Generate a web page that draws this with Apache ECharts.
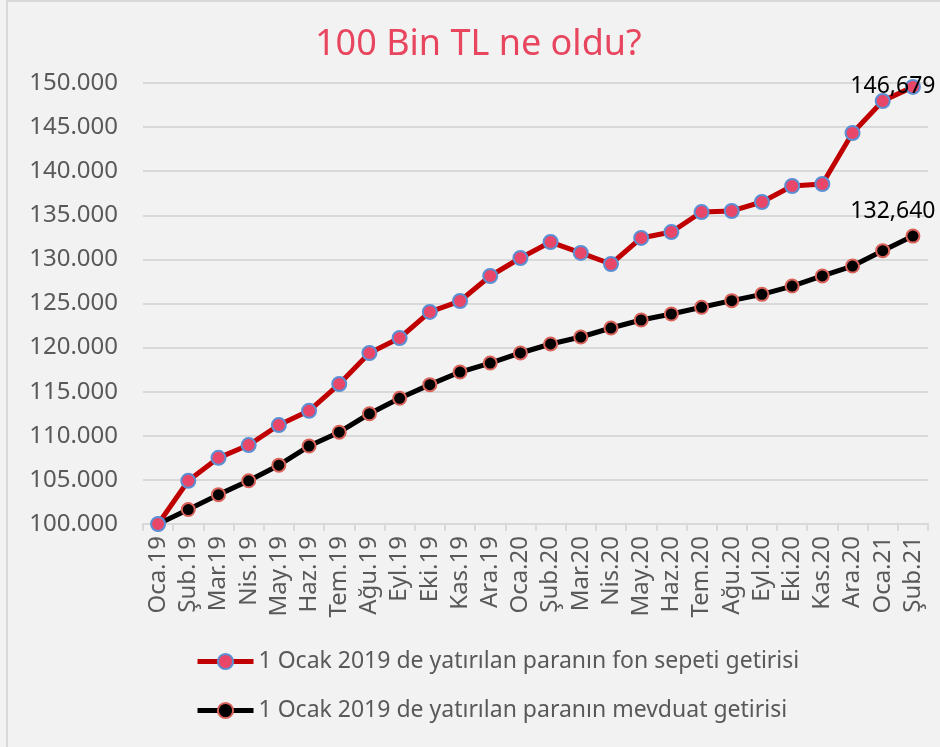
<!DOCTYPE html>
<html>
<head>
<meta charset="utf-8">
<script src="https://cdn.jsdelivr.net/npm/echarts@6/dist/echarts.min.js"></script>
<style>
html,body{margin:0;padding:0;background:#f2f2f2;}
#c{width:940px;height:747px;}
</style>
</head>
<body>
<div id="c"></div>
<script>
var categories = ["Oca.19","Şub.19","Mar.19","Nis.19","May.19","Haz.19","Tem.19","Ağu.19","Eyl.19","Eki.19","Kas.19","Ara.19",
  "Oca.20","Şub.20","Mar.20","Nis.20","May.20","Haz.20","Tem.20","Ağu.20","Eyl.20","Eki.20","Kas.20","Ara.20","Oca.21","Şub.21"];
var fonSepeti = [100000,104900,107500,108950,111220,112830,115870,119390,121090,124040,125280,128120,
  130160,131970,130730,129480,132430,133100,135370,135490,136510,138320,138550,144330,147960,149560];
var mevduat = [100000,101640,103330,104900,106670,108840,110410,112500,114250,115800,117230,118250,
  119390,120410,121200,122220,123130,123810,124570,125320,126040,126980,128120,129250,130990,132640];
var seriesNames = ["1 Ocak 2019 de yatırılan paranın fon sepeti getirisi","1 Ocak 2019 de yatırılan paranın mevduat getirisi"];
var lastLabels = ["146,679","132,640"];
var titleText = "100 Bin TL ne oldu?";

function fmt(v){ return String(v).replace(/\B(?=(\d{3})+(?!\d))/g, "."); }

var chart = echarts.init(document.getElementById('c'), null, {renderer:'canvas'});
var font = "'Noto Sans', sans-serif";

function lastLabel(data, text, offset){
  return data.map(function(v,i){
    if(i === data.length-1){
      return {value:v, label:{show:true, formatter:text, position:'top', offset:offset,
        color:'#000', fontSize:23, fontFamily:font}};
    }
    return v;
  });
}

chart.setOption({
  backgroundColor:'#f2f2f2',
  animation:false,
  title:{
    text:titleText, left:310, top:22,
    textStyle:{color:'#e8465f', fontSize:36, fontWeight:'normal', fontFamily:font}
  },
  graphic:[{type:'rect', shape:{x:7,y:1,width:1000,height:1000}, style:{fill:'none', stroke:'#d9d9d9', lineWidth:2}, silent:true}],
  grid:{left:143, right:12, top:83, bottom:223, containLabel:false},
  legend:{
    orient:'vertical', left:190, top:645, itemWidth:56, itemHeight:19, itemGap:26,
    lineStyle:{width:5},
    textStyle:{color:'#595959', fontSize:23, fontFamily:font},
    data:seriesNames
  },
  xAxis:{
    type:'category', data:categories, boundaryGap:true,
    axisLine:{lineStyle:{color:'#d9d9d9', width:2}},
    axisTick:{show:true, length:7, lineStyle:{color:'#d9d9d9', width:2}},
    axisLabel:{rotate:90, color:'#595959', fontSize:24, fontFamily:font, margin:12, interval:0}
  },
  yAxis:{
    type:'value', min:100000, max:150000, interval:5000,
    axisLine:{show:false}, axisTick:{show:false},
    splitLine:{lineStyle:{color:'#d9d9d9', width:2}},
    axisLabel:{color:'#595959', fontSize:24, fontFamily:font, margin:25, formatter:function(v){return fmt(v);}}
  },
  series:[
    {name:seriesNames[0], type:'line', data:lastLabel(fonSepeti, lastLabels[0], [-20,24]),
     symbol:'circle', symbolSize:14,
     lineStyle:{color:'#c00000', width:5},
     itemStyle:{color:'#e8476a', borderColor:'#5b8fd3', borderWidth:2},
     z:3},
    {name:seriesNames[1], type:'line', data:lastLabel(mevduat, lastLabels[1], [-20,-1]),
     symbol:'circle', symbolSize:13,
     lineStyle:{color:'#000000', width:5},
     itemStyle:{color:'#000000', borderColor:'#d9625a', borderWidth:2},
     z:2}
  ]
});
</script>
</body>
</html>
